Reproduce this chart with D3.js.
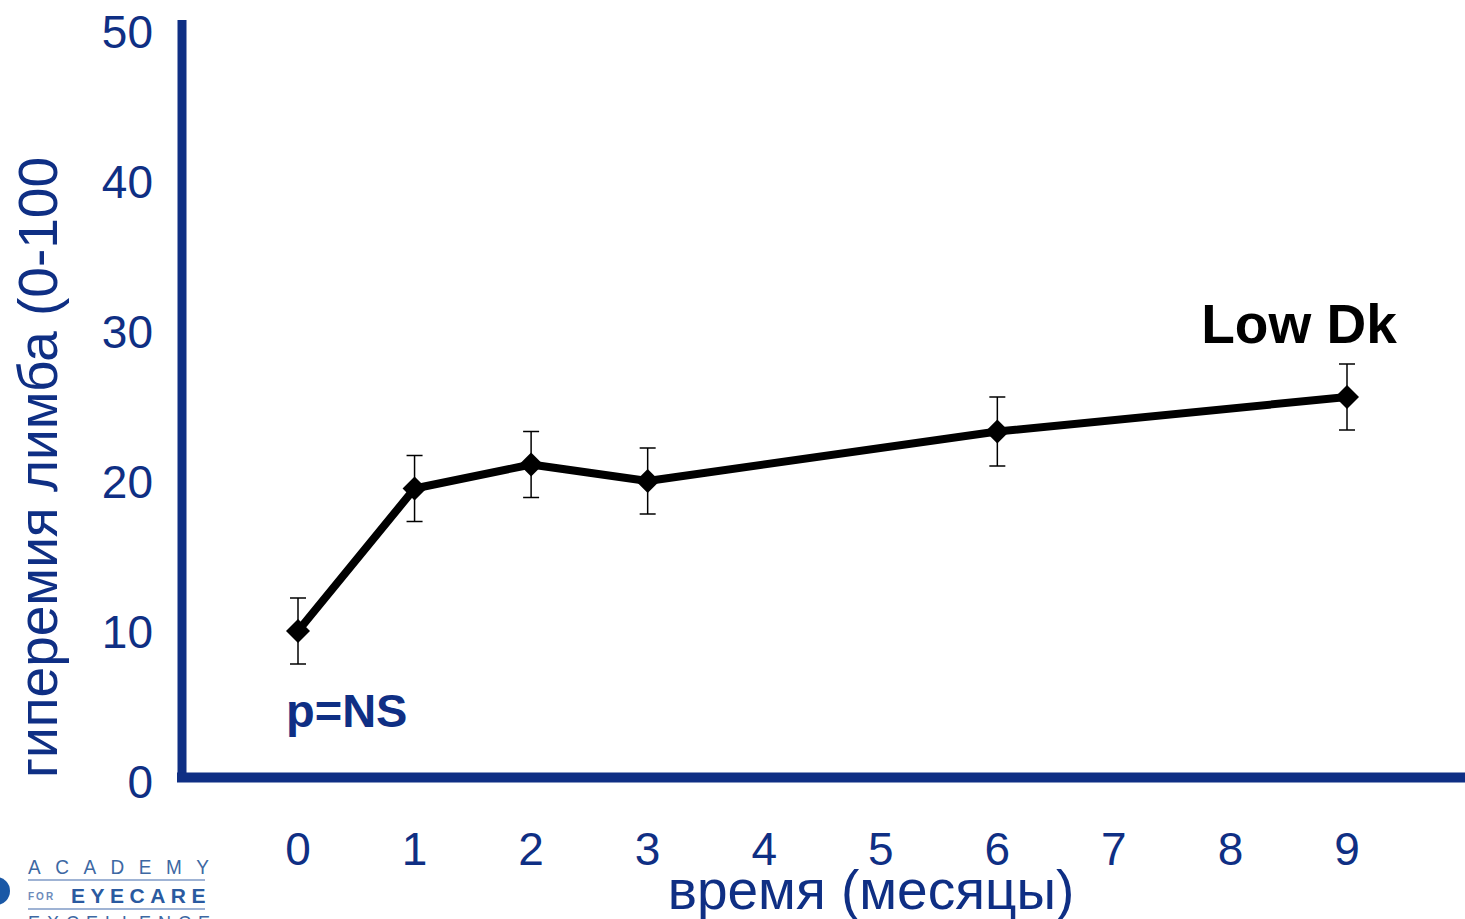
<!DOCTYPE html>
<html>
<head>
<meta charset="utf-8">
<script src="https://cdn.jsdelivr.net/npm/d3@7"></script>
<style>
  html, body { margin: 0; padding: 0; background: #fff; }
  svg { display: block; font-family: "Liberation Sans", Arial, sans-serif; }
</style>
</head>
<body>
<svg id="chart" width="1465" height="919"></svg>
<script>
// Limbal hyperemia over time, Low Dk lens group
const months = [0, 1, 2, 3, 6, 9];
const hyperemia = [10.0, 19.5, 21.1, 20.0, 23.3, 25.6];
const errors = [2.2, 2.2, 2.2, 2.2, 2.3, 2.2];
const xTicks = [0, 1, 2, 3, 4, 5, 6, 7, 8, 9];
const yTicks = [0, 10, 20, 30, 40, 50];

const blue = "#0f2f84";
const svg = d3.select("#chart");

const x = d3.scaleLinear().domain([0, 9]).range([298, 1347]);
const y = d3.scaleLinear().domain([0, 50]).range([781, 31]);

// Axes lines
svg.append("line")
  .attr("x1", 182).attr("x2", 182)
  .attr("y1", 20).attr("y2", 782)
  .attr("stroke", blue).attr("stroke-width", 9);
svg.append("line")
  .attr("x1", 177).attr("x2", 1465)
  .attr("y1", 777.5).attr("y2", 777.5)
  .attr("stroke", blue).attr("stroke-width", 10);

// Y tick labels
svg.append("g").selectAll("text").data(yTicks).join("text")
  .attr("x", 153)
  .attr("y", d => y(d))
  .attr("dy", "0.36em")
  .attr("text-anchor", "end")
  .attr("font-size", 46)
  .attr("fill", blue)
  .text(d => d);

// X tick labels
svg.append("g").selectAll("text").data(xTicks).join("text")
  .attr("x", d => x(d))
  .attr("y", 848)
  .attr("dy", "0.36em")
  .attr("text-anchor", "middle")
  .attr("font-size", 46)
  .attr("fill", blue)
  .text(d => d);

// Axis titles
svg.append("text")
  .attr("transform", "translate(57,778) rotate(-90)")
  .attr("text-anchor", "start")
  .attr("font-size", 55)
  .attr("fill", blue)
  .text("гиперемия лимба (0-100");

svg.append("text")
  .attr("x", 871)
  .attr("y", 909)
  .attr("text-anchor", "middle")
  .attr("font-size", 55)
  .attr("fill", blue)
  .text("время (месяцы)");

// Error bars
const pts = months.map((m, i) => ({ m, v: hyperemia[i], e: errors[i] }));
const eb = svg.append("g").attr("stroke", "#000").attr("stroke-width", 1.5);
pts.forEach(p => {
  eb.append("line").attr("x1", x(p.m)).attr("x2", x(p.m))
    .attr("y1", y(p.v + p.e)).attr("y2", y(p.v - p.e));
  [p.v + p.e, p.v - p.e].forEach(v => {
    eb.append("line").attr("x1", x(p.m) - 8).attr("x2", x(p.m) + 8)
      .attr("y1", y(v)).attr("y2", y(v));
  });
});

// Series line
svg.append("path")
  .datum(pts)
  .attr("fill", "none")
  .attr("stroke", "#000")
  .attr("stroke-width", 8)
  .attr("stroke-linejoin", "round")
  .attr("d", d3.line().x(d => x(d.m)).y(d => y(d.v)));

// Diamond markers
svg.append("g").selectAll("path").data(pts).join("path")
  .attr("transform", d => `translate(${x(d.m)},${y(d.v)})`)
  .attr("d", "M0,-12L12,0L0,12L-12,0Z")
  .attr("fill", "#000");

// Annotations
svg.append("text")
  .attr("x", 1299).attr("y", 343)
  .attr("text-anchor", "middle")
  .attr("font-size", 55).attr("font-weight", "bold")
  .attr("fill", "#000")
  .text("Low Dk");

svg.append("text")
  .attr("x", 286).attr("y", 727)
  .attr("font-size", 47).attr("font-weight", "bold")
  .attr("fill", blue)
  .text("p=NS");

// Logo block, bottom-left
const logo = svg.append("g");
logo.append("circle").attr("cx", -4).attr("cy", 891).attr("r", 14).attr("fill", "#1a58a6");
logo.append("text").attr("x", 28).attr("y", 874)
  .attr("font-size", 19).attr("letter-spacing", 14.5).attr("fill", "#3d68a3")
  .attr("transform", "translate(0,874) scale(1,1.1) translate(0,-874)")
  .text("ACADEMY");
logo.append("line").attr("x1", 28).attr("x2", 205).attr("y1", 880).attr("y2", 880)
  .attr("stroke", "#9fb3d4").attr("stroke-width", 2);
logo.append("text").attr("x", 28).attr("y", 900)
  .attr("font-size", 10).attr("font-weight", "bold").attr("letter-spacing", 2).attr("fill", "#6d8bbb")
  .text("FOR");
logo.append("text").attr("x", 71).attr("y", 903)
  .attr("font-size", 21).attr("font-weight", "bold").attr("letter-spacing", 5.5).attr("fill", "#2a5aa0")
  .text("EYECARE");
logo.append("line").attr("x1", 28).attr("x2", 205).attr("y1", 909).attr("y2", 909)
  .attr("stroke", "#9fb3d4").attr("stroke-width", 2);
logo.append("text").attr("x", 28).attr("y", 929)
  .attr("font-size", 18).attr("letter-spacing", 7).attr("fill", "#3d68a3")
  .text("EXCELLENCE");
</script>
</body>
</html>
